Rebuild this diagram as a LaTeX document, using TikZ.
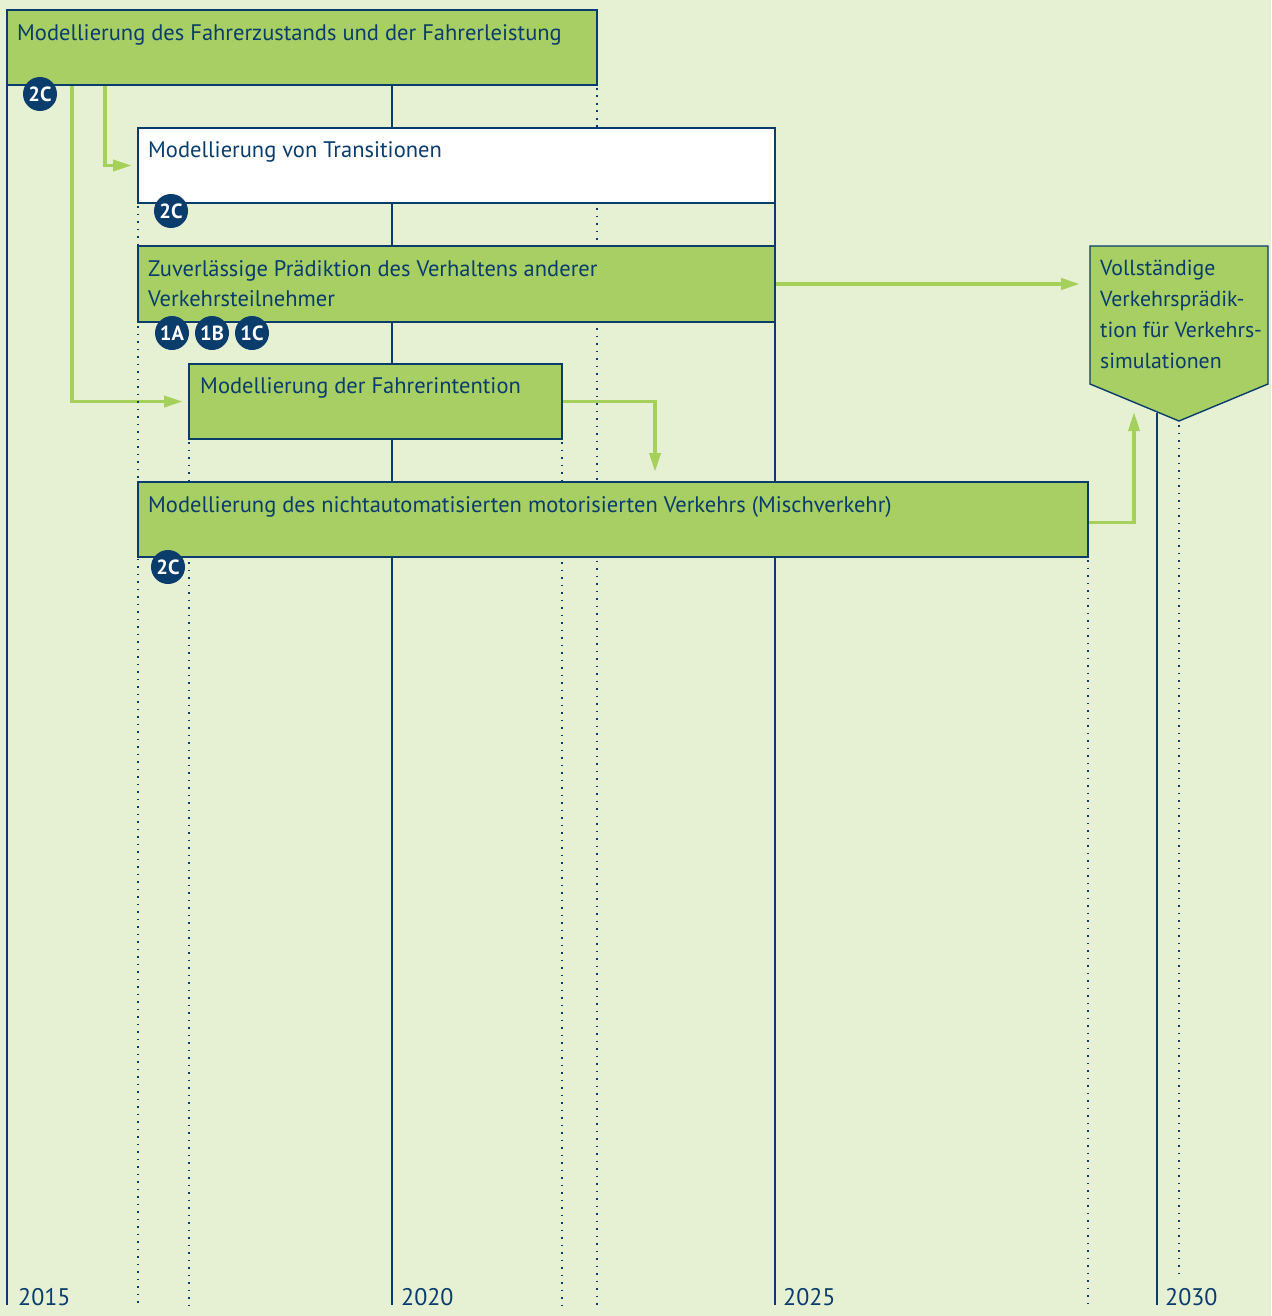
\documentclass[tikz,border=0pt]{standalone}
\usepackage{fontspec}
\setmainfont{PT Sans}
\usetikzlibrary{arrows.meta}
\definecolor{bgc}{RGB}{230,241,212}
\definecolor{boxg}{RGB}{168,207,99}
\definecolor{navy}{RGB}{10,60,108}
\definecolor{arrg}{RGB}{165,208,92}
\pgfdeclarelayer{ground}
\pgfdeclarelayer{links}
\pgfsetlayers{ground,links,main}
\begin{document}
\begin{tikzpicture}[x=1pt,y=-1pt,
  box/.style={draw=navy, line width=1.4pt, fill=boxg, inner sep=0pt, outer sep=0pt},
  wbox/.style={box, fill=white},
  lbl/.style={text=navy, font=\fontsize{22.5}{30.7}\selectfont, inner sep=0pt, anchor=base west, align=left},
  year/.style={text=navy, font=\fontsize{24}{28}\selectfont, inner sep=0pt, anchor=base west},
  badge/.style={circle, fill=navy, text=white, minimum size=34pt, inner sep=0pt, font=\bfseries\fontsize{20.5}{20.5}\selectfont},
  axis/.style={draw=navy, line width=1.8pt},
  dots/.style={draw=navy, line width=1.7pt, dash pattern=on 1.7pt off 5.8pt},
  arr/.style={draw=arrg, line width=3.6pt, -{Triangle[length=19pt, width=11pt]}},
]
\useasboundingbox (0,0) rectangle (1271,1316);
\begin{pgfonlayer}{ground}
  \fill[bgc] (0,0) rectangle (1271,1316);
\end{pgfonlayer}

% timeline rules
\draw[axis] (7,85) -- (7,1305);
\draw[axis] (392,85) -- (392,1305);
\draw[axis] (775,128) -- (775,1305);
\draw[axis] (1157,413) -- (1157,1305);
\draw[dots] (138,206) -- (138,1305);
\draw[dots] (189,442) -- (189,1305);
\draw[dots] (562,442) -- (562,1305);
\draw[dots] (597,88) -- (597,1305);
\draw[dots] (1088,560) -- (1088,1305);
\draw[dots] (1179,425) -- (1179,1278);

% boxes
\node[box, minimum width=590, minimum height=75] (fz) at (302,47.5) {};
\node[wbox, minimum width=637, minimum height=75] (tr) at (456.5,165.5) {};
\node[box, minimum width=637, minimum height=76] (pr) at (456.5,284) {};
\node[box, minimum width=373, minimum height=75] (fi) at (375.5,401.5) {};
\node[box, minimum width=950, minimum height=75] (mv) at (613,519.5) {};

% pentagon goal
\filldraw[fill=boxg, draw=navy, line width=1.4pt, line join=miter]
  (1090,246) -- (1268,246) -- (1268,384) -- (1179,421) -- (1090,384) -- cycle;

% tip points of the connectors that end on the pentagon
\coordinate (vpin) at (1080,284);
\coordinate (vpup) at (1134,412);

% connectors, kept beneath the rules
\begin{pgfonlayer}{links}
\draw[arr] ([xshift=98]fz.south west) |- ([xshift=-6]tr.west);
\draw[arr] ([xshift=65]fz.south west) |- ([xshift=-6]fi.west);
\draw[arr] (pr.east) -- (vpin);
\draw[arr] (fi.east) -| ([shift={(517,-10)}]mv.north west);
\draw[arr] ([yshift=-3]mv.east) -| (vpup);
\end{pgfonlayer}

% labels
\node[lbl] (t1) at (17,41) {Modellierung des Fahrerzustands und der Fahrerleistung};
\node[lbl] (t2) at (148,158) {Modellierung von Transitionen};
\node[lbl] (t3) at (148,306.7) {Zuverlässige Prädiktion des Verhaltens anderer\\Verkehrsteilnehmer};
\node[lbl] (t4) at (200,393) {Modellierung der Fahrerintention};
\node[lbl] (t5) at (148,512) {Modellierung des nichtautomatisierten motorisierten Verkehrs (Mischverkehr)};
\node[lbl, font=\fontsize{21.8}{30.7}\selectfont] (vp) at (1100,368) {Vollständige\\Verkehrsprädik-\\tion für Verkehrs-\\simulationen};

% badges
\node[badge] (b1) at (40,94) {2C};
\node[badge] (b2) at (171,211) {2C};
\node[badge] (b3) at (172,333) {1A};
\node[badge] (b4) at (212,333) {1B};
\node[badge] (b5) at (252,333) {1C};
\node[badge] (b6) at (168,567) {2C};

% years
\node[year] (y1) at (18,1305) {2015};
\node[year] (y2) at (401,1305) {2020};
\node[year] (y3) at (783,1305) {2025};
\node[year] (y4) at (1165,1305) {2030};
\end{tikzpicture}
\end{document}
